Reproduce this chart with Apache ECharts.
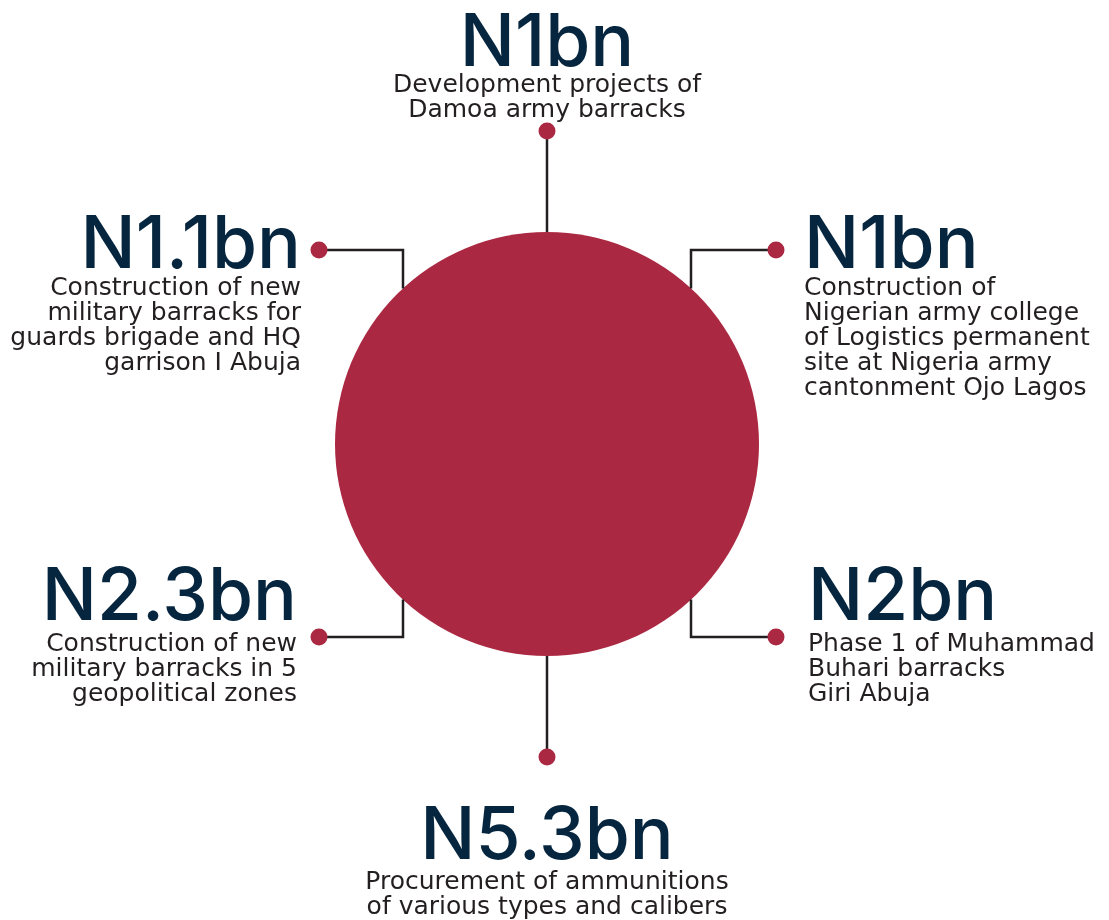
<!DOCTYPE html>
<html>
<head>
<meta charset="utf-8">
<title>Army barracks and ammunition budget</title>
<script src="https://cdn.jsdelivr.net/npm/echarts@6/dist/echarts.min.js"></script>
<style>
  html, body { margin: 0; padding: 0; background: #ffffff; }
  #chart { width: 1109px; height: 920px; }
</style>
</head>
<body>
<div id="chart"></div>
<script>
// budget items, billions of naira
const slots = ["top", "upperLeft", "upperRight", "lowerLeft", "lowerRight", "bottom"];
const amounts = [1, 1.1, 1, 2.3, 2, 5.3];
const projects = [
  "Development projects of\nDamoa army barracks",
  "Construction of new\nmilitary barracks for\nguards brigade and HQ\ngarrison I Abuja",
  "Construction of\nNigerian army college\nof Logistics permanent\nsite at Nigeria army\ncantonment Ojo Lagos",
  "Construction of new\nmilitary barracks in 5\ngeopolitical zones",
  "Phase 1 of Muhammad\nBuhari barracks\nGiri Abuja",
  "Procurement of ammunitions\nof various types and calibers",
];

const RED = "#ab2842";
const NAVY = "#06263f";
const INK = "#231f20";

// layout of the hub
const cx = 547, cy = 444, r = 212;
const elbow = 144;
const layout = {
  top:        { dot: [0, -313], text: [547, 8], desc: 73, align: "center" },
  upperLeft:  { dot: [-228, -194], text: [301, 210], desc: 276, align: "right" },
  upperRight: { dot: [229, -194], text: [804, 210], desc: 276, align: "left" },
  lowerLeft:  { dot: [-228, 193], text: [297, 562], desc: 632, align: "right" },
  lowerRight: { dot: [229, 193], text: [808, 562], desc: 632, align: "left" },
  bottom:     { dot: [0, 313], text: [547, 801], desc: 870, align: "center" },
};

function connector(slot) {
  const d = layout[slot].dot;
  const dot = [cx + d[0], cy + d[1]];
  if (d[0] === 0) {
    const edge = [cx, cy + Math.sign(d[1]) * r];
    return [edge, dot];
  }
  const ex = cx + Math.sign(d[0]) * elbow;
  const ey = cy + Math.sign(d[1]) * Math.sqrt(r * r - elbow * elbow);
  return [[ex, ey], [ex, dot[1]], dot];
}

const chart = echarts.init(document.getElementById("chart"));

const graphics = [];
slots.forEach((slot, i) => {
  const l = layout[slot];
  graphics.push({
    type: "text",
    x: l.text[0],
    y: l.text[1],
    style: {
      text: "N" + amounts[i] + "bn",
      fill: NAVY,
      font: "500 73px Inter, 'DejaVu Sans', sans-serif",
      align: l.align,
      verticalAlign: "top",
      lineHeight: 73,
    },
  });
  graphics.push({
    type: "text",
    x: l.text[0],
    y: l.desc,
    style: {
      text: projects[i],
      fill: INK,
      font: "25px 'DejaVu Sans', sans-serif",
      align: l.align,
      verticalAlign: "top",
      lineHeight: 25,
    },
  });
});

const option = {
  animation: false,
  backgroundColor: "#ffffff",
  grid: { left: 0, right: 0, top: 0, bottom: 0 },
  xAxis: { type: "value", min: 0, max: 1109, show: false },
  yAxis: { type: "value", min: 0, max: 920, inverse: true, show: false },
  series: [
    {
      name: "hub",
      type: "scatter",
      symbol: "circle",
      symbolSize: r * 2,
      itemStyle: { color: RED, opacity: 1 },
      silent: true,
      z: 1,
      data: [[cx, cy]],
    },
    {
      name: "connectors",
      type: "lines",
      coordinateSystem: "cartesian2d",
      polyline: true,
      silent: true,
      lineStyle: { color: INK, width: 2.5, opacity: 1 },
      z: 2,
      data: slots.map((s) => ({ coords: connector(s) })),
    },
    {
      name: "items",
      type: "scatter",
      symbol: "circle",
      symbolSize: 17,
      itemStyle: { color: RED, opacity: 1 },
      z: 3,
      data: slots.map((s, i) => ({
        value: [cx + layout[s].dot[0], cy + layout[s].dot[1]],
        name: projects[i],
      })),
    },
  ],
  graphic: graphics,
};

chart.setOption(option);

window.addEventListener("resize", () => chart.resize());
</script>
</body>
</html>
